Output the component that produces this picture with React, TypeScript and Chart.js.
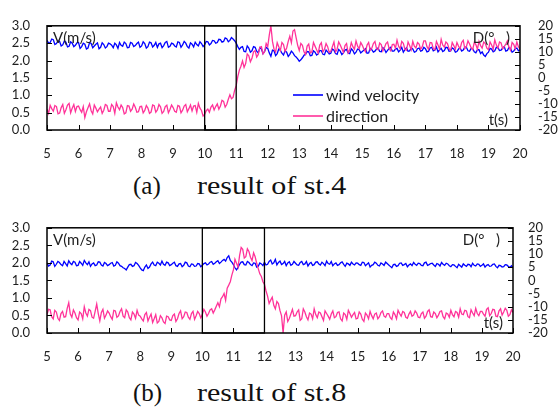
import React, { useEffect, useRef } from "react";
import { Chart, registerables } from "chart.js";

Chart.register(...registerables);

// ---- data: samples every 0.1 s from t = 5.0 s (main) and at the half steps t = 5.05 s ... (mid) ----
const T_START = 5;
const T_STEP = 0.05;

const X_TICKS = [5, 6, 7, 8, 9, 10, 11, 12, 13, 14, 15, 16, 17, 18, 19, 20];
const LEFT_TICKS = [0, 0.5, 1.0, 1.5, 2.0, 2.5, 3.0];
const RIGHT_TICKS = [-20, -15, -10, -5, 0, 5, 10, 15, 20];
const SERIES_NAMES = ["wind velocity", "direction"];
const CAPTIONS = [
  ["(a)", "result of st.4"],
  ["(b)", "result of st.8"],
];

// st.4 wind velocity (m/s)
const VEL_A = [
  2.58, 2.52, 2.6, 2.49, 2.55, 2.45, 2.53, 2.41, 2.5, 2.44,
  2.52, 2.4, 2.47, 2.36, 2.49, 2.42, 2.51, 2.38, 2.46, 2.4,
  2.48, 2.37, 2.45, 2.52, 2.41, 2.49, 2.38, 2.5, 2.43, 2.53,
  2.42, 2.49, 2.4, 2.51, 2.44, 2.38, 2.5, 2.43, 2.55, 2.41,
  2.48, 2.39, 2.52, 2.45, 2.5, 2.36, 2.47, 2.53, 2.42, 2.49,
  2.46, 2.54, 2.49, 2.57, 2.52, 2.6, 2.55, 2.63, 2.58, 2.62,
  2.5, 2.32, 2.4, 2.25, 2.36, 2.28, 2.38, 2.22, 2.33, 2.26,
  2.35, 2.12, 2.28, 2.2, 2.3, 2.16, 2.24, 2.18, 2.22, 2.1,
  1.98, 2.08, 2.18, 2.25, 2.15, 2.24, 2.19, 2.28, 2.17, 2.25,
  2.21, 2.3, 2.18, 2.27, 2.22, 2.32, 2.2, 2.29, 2.24, 2.31,
  2.26, 2.34, 2.22, 2.31, 2.27, 2.36, 2.25, 2.33, 2.29, 2.38,
  2.27, 2.35, 2.3, 2.24, 2.37, 2.28, 2.33, 2.26, 2.36, 2.29,
  2.34, 2.27, 2.38, 2.3, 2.25, 2.35, 2.29, 2.37, 2.28, 2.33,
  2.26, 2.36, 2.3, 2.38, 2.27, 2.34, 2.22, 2.31, 2.25, 2.12,
  2.24, 2.33, 2.28, 2.37, 2.3, 2.4, 2.29, 2.35, 2.27, 2.36,
  2.31,
];
const VEL_A_MID = [
  2.5, 2.62, 2.46, 2.57, 2.42, 2.56, 2.39, 2.54, 2.4, 2.51,
  2.35, 2.5, 2.33, 2.52, 2.37, 2.47, 2.34, 2.51, 2.36, 2.5,
  2.44, 2.5, 2.35, 2.44, 2.53, 2.37, 2.52, 2.4, 2.49, 2.38,
  2.54, 2.36, 2.53, 2.39, 2.52, 2.48, 2.37, 2.52, 2.38, 2.5,
  2.42, 2.54, 2.38, 2.55, 2.4, 2.51, 2.39, 2.46, 2.54, 2.4,
  2.55, 2.45, 2.58, 2.5, 2.61, 2.53, 2.65, 2.54, 2.66, 2.57,
  2.4, 2.38, 2.26, 2.42, 2.24, 2.4, 2.27, 2.37, 2.2, 2.38,
  2.22, 2.3, 2.14, 2.33, 2.21, 2.28, 2.12, 2.27, 2.14, 2.05,
  2.02, 2.15, 2.26, 2.14, 2.28, 2.16, 2.29, 2.18, 2.3, 2.19,
  2.33, 2.2, 2.32, 2.17, 2.3, 2.22, 2.34, 2.19, 2.33, 2.22,
  2.3, 2.21, 2.35, 2.24, 2.33, 2.26, 2.37, 2.23, 2.35, 2.27,
  2.33, 2.25, 2.38, 2.31, 2.27, 2.36, 2.24, 2.34, 2.27, 2.38,
  2.25, 2.36, 2.28, 2.39, 2.31, 2.26, 2.38, 2.27, 2.36, 2.24,
  2.33, 2.27, 2.39, 2.28, 2.35, 2.25, 2.31, 2.2, 2.16, 2.2,
  2.35, 2.25, 2.38, 2.29, 2.36, 2.27, 2.38, 2.24, 2.34, 2.28,
];

// st.4 direction (deg)
const DIR_A = [
  -12.0, -10.5, -12.8, -11.0, -13.5, -10.2, -12.2, -9.8, -11.6, -12.9,
  -10.8, -13.2, -15.2, -11.5, -12.6, -10.4, -13.0, -11.2, -12.4, -10.6,
  -12.8, -11.0, -9.6, -12.2, -11.4, -13.4, -10.8, -12.0, -11.3, -13.0,
  -10.9, -12.5, -11.6, -13.1, -10.7, -12.3, -11.1, -12.9, -10.5, -12.1,
  -11.4, -13.2, -10.9, -12.4, -10.2, -11.8, -12.7, -10.6, -9.8, -12.5,
  -14.0, -12.0, -11.2, -12.3, -10.0, -10.8, -9.0, -10.2, -6.5, -7.5,
  -3.0, 3.0, 6.5, 5.5, 8.5, 7.5, 10.5, 9.0, 12.0, 10.0,
  12.0, 20.0, 11.0, 13.5, 10.5, 12.8, 11.5, 16.0, 18.0, 15.5,
  10.5, 12.5, 9.0, 13.0, 10.0, 12.2, 9.5, 13.5, 11.0, 12.0,
  10.2, 13.8, 11.0, 12.6, 9.8, 13.2, 10.8, 12.0, 14.2, 11.2,
  12.5, 10.0, 13.6, 11.4, 14.0, 10.8, 12.8, 11.6, 13.8, 10.4,
  12.9, 14.5, 11.2, 13.3, 10.6, 12.4, 14.0, 11.5, 13.0, 12.0,
  14.2, 11.0, 13.5, 10.8, 12.6, 14.8, 11.8, 13.2, 10.5, 12.4,
  13.6, 11.2, 14.4, 12.0, 13.0, 10.9, 12.8, 14.0, 11.4, 13.2,
  10.8, 12.6, 14.6, 11.5, 13.4, 12.0, 14.2, 10.6, 12.9, 13.8,
  11.0,
];
const DIR_A_MID = [
  -13.6, -11.8, -10.6, -13.8, -11.4, -13.6, -10.4, -13.4, -10.2, -11.0,
  -12.2, -11.0, -13.0, -10.0, -13.8, -11.6, -12.0, -13.6, -10.2, -12.8,
  -10.2, -13.6, -11.2, -10.4, -13.8, -10.6, -12.8, -10.0, -13.2, -11.0,
  -13.4, -10.6, -13.6, -10.4, -13.2, -10.2, -13.6, -11.0, -13.4, -10.4,
  -12.8, -10.6, -13.4, -10.8, -13.0, -10.4, -10.8, -13.2, -11.6, -14.6,
  -12.6, -13.2, -10.4, -11.0, -12.0, -8.6, -11.2, -8.2, -8.0, -4.8,
  0.5, 4.5, 4.0, 9.2, 6.2, 10.0, 8.0, 11.8, 9.2, 13.2,
  16.5, 14.0, 10.0, 12.0, 13.6, 10.2, 14.0, 13.5, 18.5, 12.5,
  13.2, 10.0, 12.2, 9.6, 13.6, 10.8, 12.6, 10.0, 13.2, 9.8,
  12.0, 10.0, 13.8, 11.2, 12.4, 9.6, 13.6, 11.0, 12.2, 13.6,
  11.0, 12.6, 10.6, 13.2, 11.2, 13.4, 10.4, 13.2, 11.2, 12.8,
  11.4, 12.2, 14.0, 11.0, 13.8, 10.8, 12.2, 13.6, 11.0, 14.2,
  12.0, 13.6, 11.2, 14.0, 11.0, 12.6, 13.8, 11.2, 13.6, 11.0,
  12.2, 13.6, 11.2, 14.2, 11.6, 13.6, 11.0, 12.4, 13.8, 11.4,
  13.8, 11.0, 12.6, 13.8, 11.2, 13.0, 11.8, 13.6, 11.2, 12.0,
];

// st.8 wind velocity (m/s)
const VEL_B = [
  2.0, 1.94, 2.03, 1.96, 2.01, 1.92, 1.98, 2.06, 1.95, 2.02,
  1.93, 1.99, 2.07, 1.95, 1.9, 2.0, 1.94, 2.02, 1.91, 1.98,
  1.95, 2.01, 1.93, 1.99, 1.9, 1.84, 1.88, 1.96, 1.92, 1.98,
  1.86, 1.78, 1.94, 1.88, 2.02, 1.92, 1.99, 2.05, 1.93, 2.0,
  1.95, 2.02, 1.9, 1.98, 1.93, 2.0, 1.89, 1.96, 1.91, 1.97,
  1.93, 2.0, 1.97, 2.04, 1.99, 2.06, 2.02, 2.1, 2.15, 2.07,
  1.95, 1.8, 1.96, 2.03, 1.94, 2.01, 1.92, 1.99, 1.9, 1.97,
  2.02, 1.96, 2.08, 2.0, 1.94, 2.05, 1.98, 1.92, 2.03, 1.96,
  1.99, 1.93, 2.04, 1.97, 1.91, 2.01, 1.95, 2.03, 1.94, 1.98,
  2.05, 1.96, 1.92, 2.0, 1.95, 2.03, 1.9, 1.97, 2.02, 1.94,
  1.99, 1.93, 2.01, 1.96, 1.88, 1.95, 1.99, 1.91, 1.97, 2.02,
  1.94, 1.86, 1.96, 1.92, 2.0, 1.95, 1.89, 1.97, 2.01, 1.93,
  1.98, 1.92, 2.02, 1.95, 1.99, 1.9, 1.96, 2.01, 1.93, 1.97,
  1.89, 1.94, 1.86, 1.92, 1.97, 1.9, 1.95, 1.99, 1.91, 1.96,
  1.93, 1.88, 1.95, 1.91, 1.97, 1.86, 1.92, 1.89, 1.94, 1.87,
  1.86,
];
const VEL_B_MID = [
  1.91, 2.05, 1.9, 2.04, 1.95, 2.04, 1.91, 1.99, 2.04, 1.92,
  2.04, 1.93, 2.0, 2.03, 1.97, 1.92, 2.03, 1.94, 2.01, 1.92,
  1.99, 1.91, 2.03, 1.92, 1.86, 1.8, 1.95, 1.9, 2.01, 1.93,
  1.8, 1.88, 1.84, 1.97, 1.94, 2.02, 1.94, 1.96, 2.02, 1.92,
  1.99, 1.92, 1.97, 1.89, 2.02, 1.91, 1.97, 1.9, 1.98, 1.89,
  1.98, 1.94, 2.02, 1.96, 2.03, 1.98, 2.07, 2.05, 2.2, 2.02,
  1.86, 1.87, 2.02, 1.95, 2.04, 1.95, 2.0, 1.88, 2.0, 1.92,
  1.94, 2.04, 1.97, 2.1, 2.01, 1.95, 2.04, 2.0, 1.93, 2.04,
  1.94, 2.01, 1.95, 2.04, 1.98, 1.93, 2.02, 1.97, 2.02, 1.92,
  1.98, 2.04, 1.97, 1.93, 2.0, 1.96, 1.99, 1.93, 1.97, 2.0,
  1.95, 2.02, 1.92, 2.0, 1.93, 2.02, 1.93, 2.0, 1.93, 1.98,
  1.9, 1.95, 1.9, 1.99, 1.93, 1.98, 1.94, 1.92, 1.96, 1.99,
  1.93, 2.0, 1.93, 1.98, 1.94, 1.98, 1.91, 1.96, 1.99, 1.92,
  1.95, 1.9, 1.96, 1.88, 1.93, 1.96, 1.89, 1.93, 1.97, 1.9,
  1.97, 1.93, 1.9, 1.96, 1.9, 1.93, 1.88, 1.95, 1.9, 1.92,
];

// st.8 direction (deg)
const DIR_B = [
  -13.0, -11.2, -14.6, -12.0, -15.2, -11.8, -13.8, -8.5, -14.0, -12.4,
  -15.0, -12.6, -10.0, -13.6, -11.5, -14.4, -9.0, -15.4, -11.0, -13.2,
  -12.4, -14.8, -11.6, -13.5, -10.8, -14.2, -12.0, -15.0, -12.8, -11.4,
  -13.6, -15.4, -12.2, -14.0, -16.0, -13.0, -15.6, -14.2, -16.4, -13.8,
  -15.2, -12.8, -14.6, -11.6, -13.8, -12.2, -14.8, -11.8, -13.4, -12.6,
  -13.0, -12.0, -12.6, -10.8, -11.2, -8.5, -7.0, -5.0, -3.0, -0.5,
  4.0, 6.5, 9.5, 11.8, 9.0, 11.0, 7.5, 9.0, 4.5, 1.5,
  -1.5, -6.0, -7.5, -9.5, -8.0, -11.5, -20.0, -12.0, -14.5, -11.0,
  -13.4, -11.2, -14.6, -12.0, -15.0, -12.8, -10.8, -14.2, -12.4, -15.2,
  -12.6, -14.8, -11.6, -13.8, -12.0, -15.4, -13.0, -11.4, -14.0, -12.2,
  -14.4, -12.8, -15.6, -13.2, -11.8, -14.6, -12.4, -13.8, -11.6, -14.0,
  -12.6, -14.8, -13.0, -11.4, -13.6, -12.2, -14.4, -11.8, -13.2, -12.4,
  -14.2, -12.0, -13.6, -11.2, -14.0, -12.6, -13.2, -11.6, -14.6, -12.8,
  -11.4, -13.8, -12.2, -10.8, -13.0, -11.6, -14.2, -12.4, -10.6, -13.4,
  -11.8, -13.6, -10.4, -12.6, -11.2, -13.8, -10.8, -12.0, -11.4, -13.0,
  -12.2,
];
const DIR_B_MID = [
  -11.0, -13.8, -11.4, -14.4, -12.6, -14.0, -10.6, -12.8, -11.2, -14.2,
  -12.0, -14.6, -12.4, -11.0, -14.0, -11.8, -12.6, -12.2, -14.4, -11.6,
  -13.8, -11.4, -14.0, -11.8, -13.6, -11.2, -14.2, -12.0, -14.4, -13.2,
  -14.6, -13.0, -15.4, -12.8, -14.6, -16.2, -13.4, -15.8, -13.6, -15.0,
  -13.4, -15.6, -12.6, -14.6, -12.0, -14.0, -12.6, -14.8, -11.8, -14.2,
  -11.0, -13.6, -11.2, -12.4, -9.8, -10.0, -6.2, -7.6, -1.8, 2.0,
  8.0, 5.0, 12.5, 8.5, 12.0, 8.8, 10.5, 6.5, 2.5, -0.5,
  -4.0, -8.8, -6.4, -10.8, -8.8, -13.5, -13.2, -15.6, -12.8, -13.6,
  -12.0, -15.2, -10.8, -13.8, -12.4, -14.6, -13.0, -12.0, -13.8, -11.6,
  -13.6, -12.8, -14.2, -12.2, -14.6, -12.4, -14.8, -12.6, -13.0, -14.6,
  -12.0, -14.8, -12.4, -14.6, -13.4, -12.8, -14.6, -12.2, -13.6, -12.6,
  -14.2, -12.0, -14.6, -12.6, -11.8, -14.0, -12.8, -13.6, -11.6, -14.0,
  -12.6, -14.4, -11.8, -13.8, -12.0, -14.2, -11.8, -13.8, -12.4, -14.0,
  -13.0, -11.8, -14.0, -12.8, -11.4, -13.8, -11.2, -13.4, -12.6, -11.8,
  -12.8, -11.0, -13.4, -11.0, -13.6, -11.6, -13.2, -10.6, -13.6, -11.2,
];

const BOX_A = [10, 11];
const BOX_B = [10, 12];

const BLUE = "#0000ff";
const PINK = "#ff3399";
const TEXT = "#1e1e1e";
const FONT = "Lato";

type PanelCfg = {
  box: number[];
  rightWidth: number;
  rightPad: number;
  dRight: number;
  tRight: number;
  legend: boolean;
};

// interleave the 0.1 s samples with the half-step samples, in time order
const toPoints = (main: number[], mid: number[]) => {
  const pts: { x: number; y: number }[] = [];
  main.forEach((v, i) => {
    pts.push({ x: Math.round((T_START + 2 * i * T_STEP) * 100) / 100, y: v });
    if (i < mid.length) {
      pts.push({ x: Math.round((T_START + (2 * i + 1) * T_STEP) * 100) / 100, y: mid[i] });
    }
  });
  return pts;
};

const overlay = (cfg: PanelCfg) => ({
  id: "overlay",
  afterDatasetsDraw(chart: any) {
    const { ctx, chartArea: a } = chart;
    const sx = chart.scales.x;
    const sy = chart.scales.y;
    const sy2 = chart.scales.y2;
    ctx.save();
    ctx.strokeStyle = "#000";
    ctx.lineWidth = 1.3;
    const b0 = sx.getPixelForValue(cfg.box[0]);
    const b1 = sx.getPixelForValue(cfg.box[1]);
    ctx.strokeRect(b0, a.top, b1 - b0, a.bottom - a.top);
    ctx.lineWidth = 1.5;
    ctx.strokeRect(a.left, a.top, a.right - a.left, a.bottom - a.top);
    ctx.lineWidth = 1;
    ctx.beginPath();
    for (const t of sx.ticks) {
      const p = Math.round(sx.getPixelForValue(t.value)) + 0.5;
      ctx.moveTo(p, a.bottom);
      ctx.lineTo(p, a.bottom - 5);
    }
    for (const t of sy.ticks) {
      const p = Math.round(sy.getPixelForValue(t.value)) + 0.5;
      ctx.moveTo(a.left, p);
      ctx.lineTo(a.left + 5, p);
    }
    for (const t of sy2.ticks) {
      const p = Math.round(sy2.getPixelForValue(t.value)) + 0.5;
      ctx.moveTo(a.right, p);
      ctx.lineTo(a.right - 5, p);
    }
    ctx.stroke();
    ctx.fillStyle = TEXT;
    ctx.font = `15px ${FONT}`;
    ctx.textBaseline = "middle";
    ctx.textAlign = "left";
    ctx.fillText("V(m/s)", a.left + 6, a.top + 12);
    ctx.textAlign = "right";
    ctx.fillText("D(°   )", a.right - cfg.dRight, a.top + 12);
    ctx.fillText("t(s)", a.right - cfg.tRight, a.bottom - 10);
    if (cfg.legend) {
      const items = [
        { name: SERIES_NAMES[0], color: BLUE, y: 95 },
        { name: SERIES_NAMES[1], color: PINK, y: 116 },
      ];
      ctx.font = `16px ${FONT}`;
      ctx.textAlign = "left";
      for (const it of items) {
        ctx.strokeStyle = it.color;
        ctx.lineWidth = 1.6;
        ctx.beginPath();
        ctx.moveTo(293, it.y);
        ctx.lineTo(323, it.y);
        ctx.stroke();
        ctx.fillStyle = TEXT;
        ctx.fillText(it.name, 326, it.y + 1);
      }
    }
    ctx.restore();
  },
});

function Panel({
  top,
  vel,
  velMid,
  dir,
  dirMid,
  cfg,
}: {
  top: number;
  vel: number[];
  velMid: number[];
  dir: number[];
  dirMid: number[];
  cfg: PanelCfg;
}) {
  const ref = useRef<HTMLCanvasElement>(null);
  useEffect(() => {
    const tickFont = { family: FONT, size: 13 };
    const chart = new Chart(ref.current as HTMLCanvasElement, {
      type: "line",
      data: {
        datasets: [
          {
            label: SERIES_NAMES[1],
            data: toPoints(dir, dirMid),
            yAxisID: "y2",
            borderColor: PINK,
            backgroundColor: PINK,
            borderWidth: 1.3,
            pointRadius: 0,
            tension: 0,
            order: 0,
          },
          {
            label: SERIES_NAMES[0],
            data: toPoints(vel, velMid),
            yAxisID: "y",
            borderColor: BLUE,
            backgroundColor: BLUE,
            borderWidth: 1.3,
            pointRadius: 0,
            tension: 0,
            order: 1,
          },
        ],
      } as any,
      options: {
        animation: false,
        responsive: false,
        devicePixelRatio: 1,
        events: [],
        layout: { padding: { top: 16, left: 0, right: 0, bottom: 0 } },
        plugins: { legend: { display: false }, tooltip: { enabled: false } },
        scales: {
          x: {
            type: "linear",
            min: X_TICKS[0],
            max: X_TICKS[X_TICKS.length - 1],
            grid: { display: false, drawTicks: false },
            border: { display: false },
            ticks: {
              autoSkip: false,
              maxRotation: 0,
              padding: 16,
              color: TEXT,
              font: tickFont,
              callback: (v: any) => String(v),
            },
            afterBuildTicks: (s: any) => {
              s.ticks = X_TICKS.map((value) => ({ value }));
            },
            afterFit: (s: any) => {
              s.height = 40;
            },
          },
          y: {
            type: "linear",
            position: "left",
            min: LEFT_TICKS[0],
            max: LEFT_TICKS[LEFT_TICKS.length - 1],
            grid: { display: false, drawTicks: false },
            border: { display: false },
            ticks: {
              autoSkip: false,
              padding: 17,
              color: TEXT,
              font: tickFont,
              callback: (v: any) => Number(v).toFixed(1),
            },
            afterBuildTicks: (s: any) => {
              s.ticks = LEFT_TICKS.map((value) => ({ value }));
            },
            afterFit: (s: any) => {
              s.width = 47;
            },
          },
          y2: {
            type: "linear",
            position: "right",
            min: RIGHT_TICKS[0],
            max: RIGHT_TICKS[RIGHT_TICKS.length - 1],
            grid: { display: false, drawTicks: false },
            border: { display: false },
            ticks: {
              autoSkip: false,
              padding: cfg.rightPad,
              color: TEXT,
              font: tickFont,
              callback: (v: any) => String(v),
            },
            afterBuildTicks: (s: any) => {
              s.ticks = RIGHT_TICKS.map((value) => ({ value }));
            },
            afterFit: (s: any) => {
              s.width = cfg.rightWidth;
            },
          },
        },
      } as any,
      plugins: [overlay(cfg)],
    });
    return () => chart.destroy();
  }, []);
  return (
    <canvas
      ref={ref}
      width={559}
      height={170}
      style={{ position: "absolute", left: 0, top, width: 559, height: 170 }}
    />
  );
}

function Caption({ top, parts }: { top: number; parts: string[] }) {
  const base: React.CSSProperties = {
    position: "absolute",
    top,
    fontFamily: "'Liberation Serif', serif",
    fontSize: 25,
    lineHeight: "25px",
    color: "#111",
    whiteSpace: "nowrap",
  };
  return (
    <>
      <div style={{ ...base, left: 133 }}>{parts[0]}</div>
      <div style={{ ...base, left: 197, transform: "scaleX(1.2)", transformOrigin: "left center" }}>
        {parts[1]}
      </div>
    </>
  );
}

export default function App() {
  return (
    <div
      style={{
        position: "absolute",
        left: 0,
        top: 0,
        width: 559,
        height: 407,
        background: "#fff",
        overflow: "hidden",
      }}
    >
      <Panel
        top={0}
        vel={VEL_A}
        velMid={VEL_A_MID}
        dir={DIR_A}
        dirMid={DIR_A_MID}
        cfg={{ box: BOX_A, rightWidth: 39, rightPad: 18, dRight: 10, tRight: 12, legend: true }}
      />
      <Caption top={173} parts={CAPTIONS[0]} />
      <Panel
        top={203}
        vel={VEL_B}
        velMid={VEL_B_MID}
        dir={DIR_B}
        dirMid={DIR_B_MID}
        cfg={{ box: BOX_B, rightWidth: 46, rightPad: 15, dRight: 13, tRight: 10, legend: false }}
      />
      <Caption top={380} parts={CAPTIONS[1]} />
    </div>
  );
}
